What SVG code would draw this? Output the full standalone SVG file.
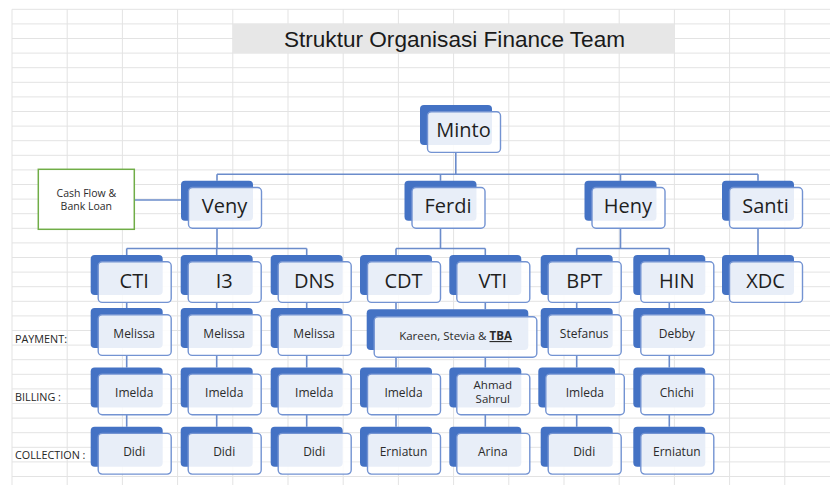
<svg xmlns="http://www.w3.org/2000/svg" width="830" height="485" viewBox="0 0 830 485">
<style>
.grid{stroke:#e3e3e3;stroke-width:1;fill:none}
.back{fill:#4472c4}
.front{fill:#ffffff;fill-opacity:0.88;stroke:#7393d2;stroke-width:1.4}
.big{font-family:"Open Sans","Liberation Sans",sans-serif;font-size:20px;fill:#1f1f1f;text-anchor:middle}
.small{font-family:"Open Sans","Liberation Sans",sans-serif;font-size:12px;fill:#2b2b2b;text-anchor:middle}
.lbl{font-family:"Open Sans","Liberation Sans",sans-serif;font-size:10.8px;fill:#262626}
.conn{stroke:#6b8ccb;stroke-width:1.6;fill:none}
</style>
<rect width="830" height="485" fill="#ffffff"/>
<g id="grid">
<path class="grid" d="M12,9.3V485M67.2,9.3V485M122.4,9.3V485M177.6,9.3V485M232.8,9.3V485M288,9.3V485M343.2,9.3V485M398.4,9.3V485M453.6,9.3V485M508.8,9.3V485M564,9.3V485M619.2,9.3V485M674.4,9.3V485M729.6,9.3V485M784.8,9.3V485"/>
<path class="grid" d="M12,9.3H830M12,23.9H830M12,38.5H830M12,53.1H830M12,67.7H830M12,82.3H830M12,96.9H830M12,111.5H830M12,126.1H830M12,140.7H830M12,155.3H830M12,169.9H830M12,184.5H830M12,199.1H830M12,213.7H830M12,228.3H830M12,242.9H830M12,257.5H830M12,272.1H830M12,286.7H830M12,301.3H830M12,315.9H830M12,330.5H830M12,345.1H830M12,359.7H830M12,374.3H830M12,388.9H830M12,403.5H830M12,418.1H830M12,432.7H830M12,447.3H830M12,461.9H830M12,476.5H830"/>
</g>
<g id="title">
<rect x="232.8" y="23.9" width="441.6" height="29.2" fill="#e7e7e7"/>
<text x="454.5" y="46.5" font-family="'Liberation Sans',Arial,sans-serif" font-size="22.6" fill="#1a1a1a" text-anchor="middle">Struktur Organisasi Finance Team</text>
</g>
<g id="row-labels">
<text class="lbl" x="15" y="342.7">PAYMENT:</text>
<text class="lbl" x="15" y="400.7">BILLING :</text>
<text class="lbl" x="15" y="459.3">COLLECTION :</text>
</g>
<g id="connectors">
<path class="conn" d="M455.8,152.4V174.3M217,174.3H758M217,174.3V180.8M440.5,174.3V180.8M620.5,174.3V180.8M758,174.3V180.8"/>
<path class="conn" d="M134.3,200H181"/>
<path class="conn" d="M217,228.2V248.5M126.7,248.5H306.7M126.7,248.5V255M216.7,248.5V255M306.7,248.5V255"/>
<path class="conn" d="M440.5,228.2V248.5M396,248.5H485.3M396,248.5V255M485.3,248.5V255"/>
<path class="conn" d="M620.5,228.2V248.5M576.7,248.5H669.3M576.7,248.5V255M669.3,248.5V255"/>
<path class="conn" d="M758,228.2V255"/>
<path class="conn" d="M126.7,302.4V308M216.7,302.4V308M306.7,302.4V308M396,302.4V309.3M485.3,302.4V309.3M576.7,302.4V308M669.3,302.4V308"/>
<path class="conn" d="M126.7,355.4V367.4M216.7,355.4V367.4M306.7,355.4V367.4M396,356.7V367.4M485.3,356.7V367.4M576.7,355.4V367.4M669.3,355.4V367.4"/>
<path class="conn" d="M126.7,414.8V426.7M216.7,414.8V426.7M306.7,414.8V426.7M396,414.8V426.7M485.3,414.8V426.7M576.7,414.8V426.7M669.3,414.8V426.7"/>
</g>
<g id="cashflow">
<rect x="38.3" y="169.3" width="96" height="60" fill="#ffffff" stroke="#70ad47" stroke-width="1.5"/>
<text class="small" x="86.3" y="196.7" style="font-size:10.5px">Cash Flow &amp;</text>
<text class="small" x="86.3" y="210" style="font-size:10.5px">Bank Loan</text>
</g>
<g id="minto" transform="translate(420,105)"><rect class="back" width="72" height="40" rx="4"/><rect class="front" x="7.5" y="6.7" width="73" height="40.7" rx="4"/><text class="big" x="43.5" y="32">Minto</text></g>
<g id="veny" transform="translate(181,180.8)"><rect class="back" width="72" height="40" rx="4"/><rect class="front" x="7.5" y="6.7" width="73" height="40.7" rx="4"/><text class="big" x="43.5" y="32.5">Veny</text></g>
<g id="ferdi" transform="translate(404.5,180.8)"><rect class="back" width="72" height="40" rx="4"/><rect class="front" x="7.5" y="6.7" width="73" height="40.7" rx="4"/><text class="big" x="43.5" y="32.5">Ferdi</text></g>
<g id="heny" transform="translate(584.5,180.8)"><rect class="back" width="72" height="40" rx="4"/><rect class="front" x="7.5" y="6.7" width="73" height="40.7" rx="4"/><text class="big" x="43.5" y="32.5">Heny</text></g>
<g id="santi" transform="translate(722,180.8)"><rect class="back" width="72" height="40" rx="4"/><rect class="front" x="7.5" y="6.7" width="73" height="40.7" rx="4"/><text class="big" x="43.5" y="32.5">Santi</text></g>
<g id="cti" transform="translate(90.7,255)"><rect class="back" width="72" height="40" rx="4"/><rect class="front" x="7.5" y="6.7" width="73" height="40.7" rx="4"/><text class="big" x="43.5" y="32.5">CTI</text></g>
<g id="i3" transform="translate(180.7,255)"><rect class="back" width="72" height="40" rx="4"/><rect class="front" x="7.5" y="6.7" width="73" height="40.7" rx="4"/><text class="big" x="43.5" y="32.5">I3</text></g>
<g id="dns" transform="translate(270.7,255)"><rect class="back" width="72" height="40" rx="4"/><rect class="front" x="7.5" y="6.7" width="73" height="40.7" rx="4"/><text class="big" x="43.5" y="32.5">DNS</text></g>
<g id="cdt" transform="translate(360,255)"><rect class="back" width="72" height="40" rx="4"/><rect class="front" x="7.5" y="6.7" width="73" height="40.7" rx="4"/><text class="big" x="43.5" y="32.5">CDT</text></g>
<g id="vti" transform="translate(449.3,255)"><rect class="back" width="72" height="40" rx="4"/><rect class="front" x="7.5" y="6.7" width="73" height="40.7" rx="4"/><text class="big" x="43.5" y="32.5">VTI</text></g>
<g id="bpt" transform="translate(540.7,255)"><rect class="back" width="72" height="40" rx="4"/><rect class="front" x="7.5" y="6.7" width="73" height="40.7" rx="4"/><text class="big" x="43.5" y="32.5">BPT</text></g>
<g id="hin" transform="translate(633.3,255)"><rect class="back" width="72" height="40" rx="4"/><rect class="front" x="7.5" y="6.7" width="73" height="40.7" rx="4"/><text class="big" x="43.5" y="32.5">HIN</text></g>
<g id="xdc" transform="translate(722,255)"><rect class="back" width="72" height="40" rx="4"/><rect class="front" x="7.5" y="6.7" width="73" height="40.7" rx="4"/><text class="big" x="43.5" y="32.5">XDC</text></g>
<g id="pay-cti" transform="translate(90.7,308)"><rect class="back" width="72" height="40" rx="4"/><rect class="front" x="7.5" y="6.7" width="73" height="40.7" rx="4"/><text class="small" x="43.5" y="29.5">Melissa</text></g>
<g id="pay-i3" transform="translate(180.7,308)"><rect class="back" width="72" height="40" rx="4"/><rect class="front" x="7.5" y="6.7" width="73" height="40.7" rx="4"/><text class="small" x="43.5" y="29.5">Melissa</text></g>
<g id="pay-dns" transform="translate(270.7,308)"><rect class="back" width="72" height="40" rx="4"/><rect class="front" x="7.5" y="6.7" width="73" height="40.7" rx="4"/><text class="small" x="43.5" y="29.5">Melissa</text></g>
<g id="pay-cdt-vti" transform="translate(366.7,309.3)"><rect class="back" width="161.6" height="40.7" rx="4"/><rect class="front" x="7.5" y="7.5" width="162.6" height="40.5" rx="4"/><text class="small" x="88.8" y="30.7" style="font-size:11.5px">Kareen, Stevia &amp; <tspan font-weight="bold" text-decoration="underline">TBA</tspan></text></g>
<g id="pay-bpt" transform="translate(540.7,308)"><rect class="back" width="72" height="40" rx="4"/><rect class="front" x="7.5" y="6.7" width="73" height="40.7" rx="4"/><text class="small" x="43.5" y="29.5">Stefanus</text></g>
<g id="pay-hin" transform="translate(633.3,308)"><rect class="back" width="72" height="40" rx="4"/><rect class="front" x="7.5" y="6.7" width="73" height="40.7" rx="4"/><text class="small" x="43.5" y="29.5">Debby</text></g>
<g id="bill-cti" transform="translate(90.7,367.4)"><rect class="back" width="72" height="40" rx="4"/><rect class="front" x="7.5" y="6.7" width="73" height="40.7" rx="4"/><text class="small" x="43.5" y="29.5">Imelda</text></g>
<g id="bill-i3" transform="translate(180.7,367.4)"><rect class="back" width="72" height="40" rx="4"/><rect class="front" x="7.5" y="6.7" width="73" height="40.7" rx="4"/><text class="small" x="43.5" y="29.5">Imelda</text></g>
<g id="bill-dns" transform="translate(270.7,367.4)"><rect class="back" width="72" height="40" rx="4"/><rect class="front" x="7.5" y="6.7" width="73" height="40.7" rx="4"/><text class="small" x="43.5" y="29.5">Imelda</text></g>
<g id="bill-cdt" transform="translate(360,367.4)"><rect class="back" width="72" height="40" rx="4"/><rect class="front" x="7.5" y="6.7" width="73" height="40.7" rx="4"/><text class="small" x="43.5" y="29.5">Imelda</text></g>
<g id="bill-vti" transform="translate(449.3,367.4)"><rect class="back" width="72" height="40" rx="4"/><rect class="front" x="7.5" y="6.7" width="73" height="40.7" rx="4"/><text class="small" x="43.5" y="22" style="font-size:11.5px"><tspan x="43.5">Ahmad</tspan><tspan x="43.5" dy="14">Sahrul</tspan></text></g>
<g id="bill-bpt" transform="translate(538.3,367.4)"><rect class="back" width="76.7" height="40" rx="4"/><rect class="front" x="7.5" y="6.7" width="78.5" height="40.7" rx="4"/><text class="small" x="46.5" y="29.5">Imleda</text></g>
<g id="bill-hin" transform="translate(633.3,367.4)"><rect class="back" width="72" height="40" rx="4"/><rect class="front" x="7.5" y="6.7" width="73" height="40.7" rx="4"/><text class="small" x="43.5" y="29.5">Chichi</text></g>
<g id="col-cti" transform="translate(90.7,426.7)"><rect class="back" width="72" height="40" rx="4"/><rect class="front" x="7.5" y="6.7" width="73" height="40.7" rx="4"/><text class="small" x="43.5" y="29.5">Didi</text></g>
<g id="col-i3" transform="translate(180.7,426.7)"><rect class="back" width="72" height="40" rx="4"/><rect class="front" x="7.5" y="6.7" width="73" height="40.7" rx="4"/><text class="small" x="43.5" y="29.5">Didi</text></g>
<g id="col-dns" transform="translate(270.7,426.7)"><rect class="back" width="72" height="40" rx="4"/><rect class="front" x="7.5" y="6.7" width="73" height="40.7" rx="4"/><text class="small" x="43.5" y="29.5">Didi</text></g>
<g id="col-cdt" transform="translate(360,426.7)"><rect class="back" width="72" height="40" rx="4"/><rect class="front" x="7.5" y="6.7" width="73" height="40.7" rx="4"/><text class="small" x="43.5" y="29.5">Erniatun</text></g>
<g id="col-vti" transform="translate(449.3,426.7)"><rect class="back" width="72" height="40" rx="4"/><rect class="front" x="7.5" y="6.7" width="73" height="40.7" rx="4"/><text class="small" x="43.5" y="29.5">Arina</text></g>
<g id="col-bpt" transform="translate(540.7,426.7)"><rect class="back" width="72" height="40" rx="4"/><rect class="front" x="7.5" y="6.7" width="73" height="40.7" rx="4"/><text class="small" x="43.5" y="29.5">Didi</text></g>
<g id="col-hin" transform="translate(633.3,426.7)"><rect class="back" width="72" height="40" rx="4"/><rect class="front" x="7.5" y="6.7" width="73" height="40.7" rx="4"/><text class="small" x="43.5" y="29.5">Erniatun</text></g>
</svg>
